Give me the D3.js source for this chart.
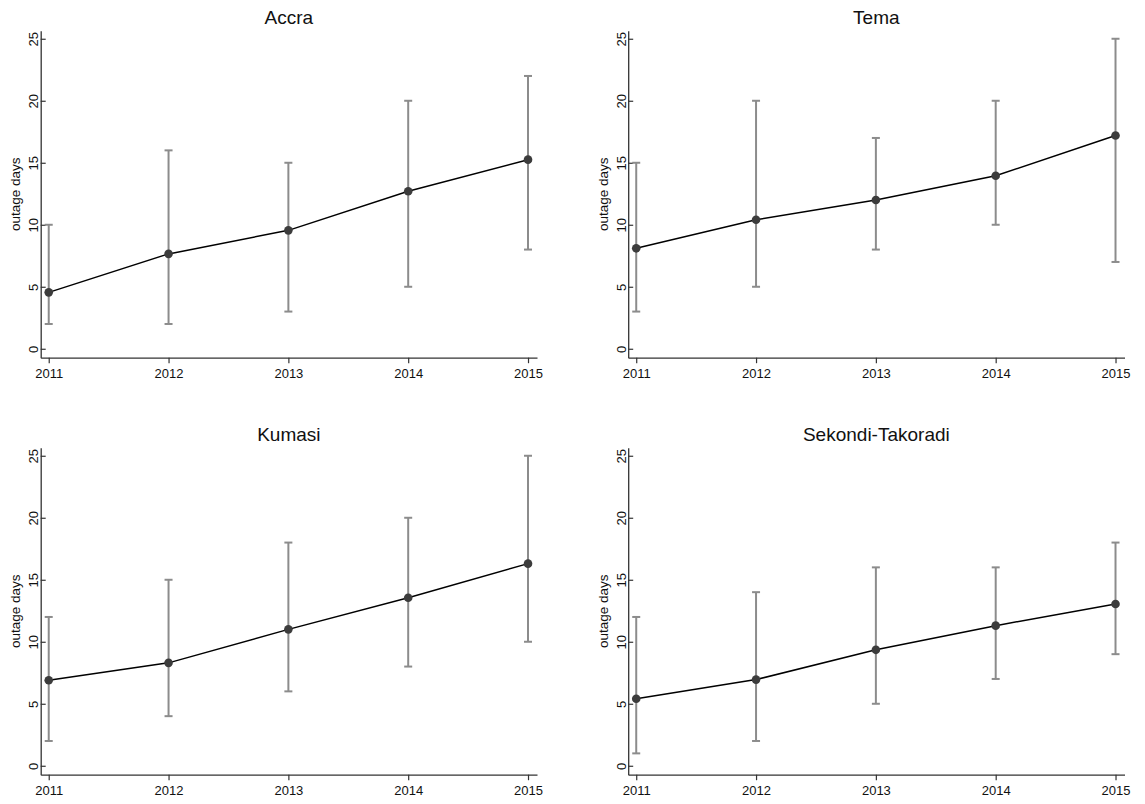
<!DOCTYPE html>
<html>
<head>
<meta charset="utf-8">
<script src="https://cdn.jsdelivr.net/npm/d3@7"></script>
<style>
  html, body { margin: 0; padding: 0; background: #fff; }
  svg { display: block; font-family: "Liberation Sans", Arial, sans-serif; }
</style>
</head>
<body>
<div id="chart"></div>
<script>
// values
const years = [2011, 2012, 2013, 2014, 2015];
const yTicks = [0, 5, 10, 15, 20, 25];
const cities = ["Accra", "Tema", "Kumasi", "Sekondi-Takoradi"];

const accraMean = [4.55, 7.65, 9.55, 12.7, 15.25];
const accraLow  = [2, 2, 3, 5, 8];
const accraHigh = [10, 16, 15, 20, 22];

const temaMean = [8.1, 10.4, 12.0, 13.95, 17.2];
const temaLow  = [3, 5, 8, 10, 7];
const temaHigh = [15, 20, 17, 20, 25];

const kumasiMean = [6.9, 8.3, 11.0, 13.55, 16.3];
const kumasiLow  = [2, 4, 6, 8, 10];
const kumasiHigh = [12, 15, 18, 20, 25];

const sekondiMean = [5.4, 6.95, 9.35, 11.3, 13.05];
const sekondiLow  = [1, 2, 5, 7, 9];
const sekondiHigh = [12, 14, 16, 16, 18];

const means = [accraMean, temaMean, kumasiMean, sekondiMean];
const lows = [accraLow, temaLow, kumasiLow, sekondiLow];
const highs = [accraHigh, temaHigh, kumasiHigh, sekondiHigh];

const width = 1145, height = 804;
const panelOffsets = [[0, 0], [587.5, 0], [0, 417], [587.5, 417]];

const svg = d3.select("#chart")
  .append("svg")
  .attr("width", width)
  .attr("height", height);

svg.append("rect").attr("width", width).attr("height", height).attr("fill", "#fff");

// x and y scales (the domains run a little past the data so the axis lines overhang like stata)
const x = d3.scaleLinear().domain([2010.933, 2015.075]).range([40.7, 537]);
const y = d3.scaleLinear().domain([-0.72, 25.65]).range([357.7, 30.7]);

const line = d3.line()
  .x(d => x(d.year))
  .y(d => y(d.mean));

cities.forEach((city, c) => {
  const data = years.map((yr, i) => ({
    year: yr, mean: means[c][i], low: lows[c][i], high: highs[c][i]
  }));

  const g = svg.append("g")
    .attr("transform", `translate(${panelOffsets[c][0]},${panelOffsets[c][1]})`);

  // title
  g.append("text")
    .attr("x", (x.range()[0] + x.range()[1]) / 2)
    .attr("y", 24)
    .attr("text-anchor", "middle")
    .attr("font-size", 19)
    .attr("fill", "#111")
    .text(city);

  // x axis
  const xAxis = g.append("g")
    .attr("transform", `translate(0,${y.range()[0]})`)
    .call(d3.axisBottom(x).tickValues(years).tickFormat(d3.format("d")).tickSize(5.5).tickSizeOuter(0));
  xAxis.selectAll("text").attr("font-size", 13).attr("fill", "#111").attr("dy", "0.71em").attr("y", 11);

  // y axis, ticks point inward, labels turned
  const yAxis = g.append("g")
    .attr("transform", `translate(${x.range()[0]},0)`)
    .call(d3.axisLeft(y).tickValues(yTicks).tickSize(-5).tickSizeOuter(0));
  yAxis.selectAll(".tick text")
    .attr("font-size", 13)
    .attr("fill", "#111")
    .attr("x", null)
    .attr("dy", null)
    .attr("text-anchor", "middle")
    .attr("transform", "translate(-2.5,0) rotate(-90)");

  [xAxis, yAxis].forEach(a => {
    a.select(".domain").attr("stroke", "#333").attr("stroke-width", 1.3);
    a.selectAll(".tick line").attr("stroke", "#333").attr("stroke-width", 1.2);
  });

  // y axis title
  g.append("text")
    .attr("transform", `translate(20,${(y.range()[0] + y.range()[1]) / 2}) rotate(-90)`)
    .attr("text-anchor", "middle")
    .attr("font-size", 13.5)
    .attr("fill", "#111")
    .text("outage days");

  // error bars
  const bars = g.append("g").selectAll("g.bar")
    .data(data)
    .join("g")
    .attr("class", "bar")
    .attr("stroke", "#8c8c8c")
    .attr("stroke-width", 2);

  bars.append("line")
    .attr("x1", d => x(d.year)).attr("x2", d => x(d.year))
    .attr("y1", d => y(d.low)).attr("y2", d => y(d.high));
  bars.append("line")
    .attr("x1", d => x(d.year) - 4).attr("x2", d => x(d.year) + 4)
    .attr("y1", d => y(d.low)).attr("y2", d => y(d.low));
  bars.append("line")
    .attr("x1", d => x(d.year) - 4).attr("x2", d => x(d.year) + 4)
    .attr("y1", d => y(d.high)).attr("y2", d => y(d.high));

  // mean line and markers
  g.append("path")
    .datum(data)
    .attr("fill", "none")
    .attr("stroke", "#000")
    .attr("stroke-width", 1.5)
    .attr("d", line);

  g.append("g").selectAll("circle")
    .data(data)
    .join("circle")
    .attr("cx", d => x(d.year))
    .attr("cy", d => y(d.mean))
    .attr("r", 4.3)
    .attr("fill", "#3c3c3c");
});
</script>
</body>
</html>
